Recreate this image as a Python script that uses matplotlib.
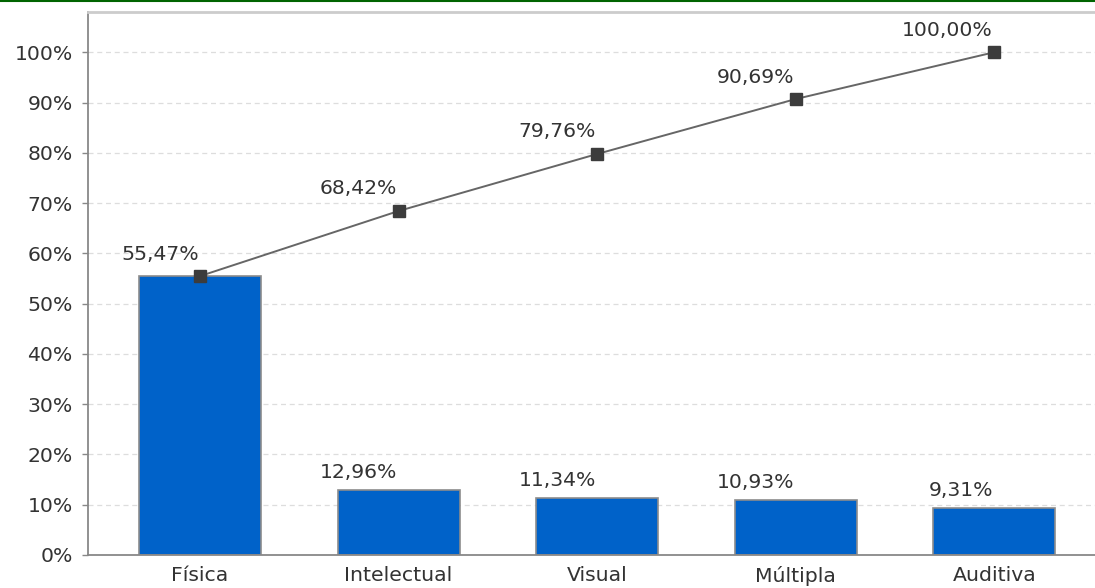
import matplotlib.pyplot as plt
from matplotlib.lines import Line2D

categorias = ['Física', 'Intelectual', 'Visual', 'Múltipla', 'Auditiva']
percentuais = [55.47, 12.96, 11.34, 10.93, 9.31]
acumulado = [55.47, 68.42, 79.76, 90.69, 100.00]
yticks = [0, 10, 20, 30, 40, 50, 60, 70, 80, 90, 100]


def fmt(v):
    return f'{v:.2f}'.replace('.', ',') + '%'


plt.rcParams['font.family'] = ['DejaVu Sans']
texto = '#333333'
fs = 14.7

fig = plt.figure(figsize=(10.95, 5.88), dpi=100)
ax = fig.add_axes([88 / 1095, 33 / 588, 1 - 88 / 1095, (555 - 12) / 588])

x = list(range(len(categorias)))
ax.bar(x, percentuais, width=0.614, color='#0062c9', edgecolor='#8c8c8c',
       linewidth=1.2, zorder=2)
ax.plot(x, acumulado, color='#666666', linewidth=1.4, marker='s',
        markersize=8, markerfacecolor='#3c3c3c', markeredgecolor='#3c3c3c',
        zorder=3)

for xi, v in zip(x, percentuais):
    if xi == 0:
        continue
    ax.annotate(fmt(v), (xi, v), xytext=(-1, 6), textcoords='offset points',
                ha='right', va='bottom', fontsize=fs, color=texto)
for xi, v in zip(x, acumulado):
    ax.annotate(fmt(v), (xi, v), xytext=(-1, 9), textcoords='offset points',
                ha='right', va='bottom', fontsize=fs, color=texto)

ax.set_xlim(-0.564, 4.507)
ax.set_ylim(0, 108)
ax.set_yticks(yticks)
ax.set_yticklabels([f'{t}%' for t in yticks])
ax.set_xticks(x)
ax.set_xticklabels(categorias)
ax.tick_params(axis='y', length=4, width=1, color='#888888', pad=7,
               labelsize=fs, labelcolor=texto)
ax.tick_params(axis='x', length=0, pad=8, labelsize=fs, labelcolor=texto)

ax.grid(axis='y', linestyle=(0, (4, 3)), color='#dddddd', linewidth=0.9, zorder=0)
ax.set_axisbelow(True)

ax.spines['left'].set_color('#888888')
ax.spines['bottom'].set_color('#888888')
ax.spines['left'].set_linewidth(1.3)
ax.spines['bottom'].set_linewidth(1.3)
ax.spines['top'].set_color('#cccccc')
ax.spines['top'].set_linewidth(2)
ax.spines['right'].set_visible(False)

fig.add_artist(Line2D([0, 1], [0.999, 0.999], color='#006400', linewidth=1.5,
                      transform=fig.transFigure))

plt.savefig('out.png', dpi=100)
